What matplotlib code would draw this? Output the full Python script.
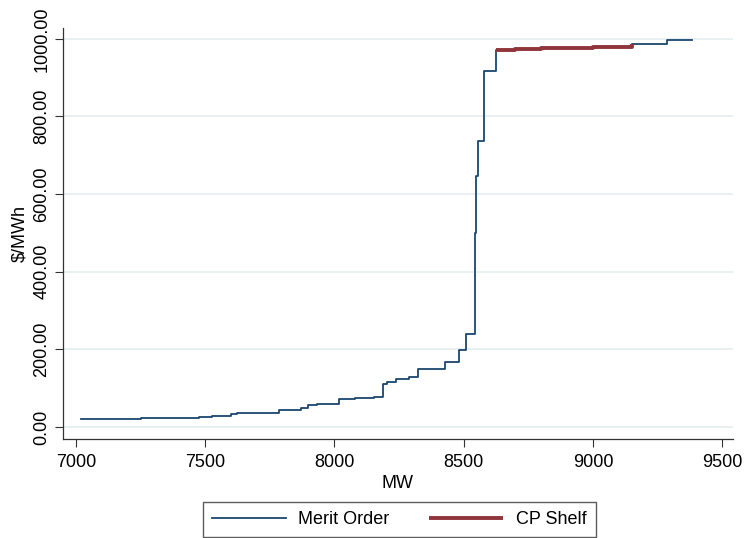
import numpy as np
import matplotlib.pyplot as plt

'''
Data:
'''
# merit order stack: start of each offer block (MW) and its price ($/MWh)
mw = [7019, 7131, 7250, 7383, 7476, 7526, 7600, 7623, 7785, 7870, 7897, 7932,
      8017, 8079, 8153, 8188, 8203, 8238, 8288, 8323, 8427, 8482, 8509,
      8543, 8547, 8555, 8578, 8624, 8700, 8800, 8900, 9000, 9150, 9286, 9382]
price = [20, 21, 22, 23, 25, 28, 33, 37, 44, 50, 56, 59,
         72, 74, 76, 112, 117, 124, 130, 149, 168, 198, 239,
         500, 647, 737, 916, 972, 974, 976, 977, 978, 987, 997, 997]

# CP shelf section of the stack
shelf_start = 8624
shelf_end = 9150

xticks = [7000, 7500, 8000, 8500, 9000, 9500]
yticks = [0, 200, 400, 600, 800, 1000]

plt.rcParams['font.family'] = ['Liberation Sans', 'DejaVu Sans']

'''
Create Graphic:
'''
fig = plt.figure(figsize=(7.53, 5.38), dpi=100)
ax = fig.add_axes([0.0837, 0.184, 0.8897, 0.764])

mw_arr = np.array(mw)
price_arr = np.array(price)
ax.step(mw_arr, price_arr, where='post', color='#1a476f', lw=1.3,
        label='Merit Order', zorder=3)

keep = (mw_arr >= shelf_start) & (mw_arr <= shelf_end)
ax.step(mw_arr[keep], price_arr[keep], where='post', color='#90353b',
        lw=2.8, label='CP Shelf', zorder=4, solid_capstyle='butt')

ax.set_xlim(6950, 9542)
ax.set_ylim(-31, 1028)
ax.set_xticks(xticks)
ax.set_yticks(yticks)
ax.set_yticklabels(['%.2f' % t for t in yticks], rotation=90, va='center')
ax.tick_params(axis='both', labelsize=13, length=6, width=0.8, color='#333333')
ax.tick_params(axis='y', pad=3)
ax.tick_params(axis='x', pad=5)

ax.grid(axis='y', color='#e4edf0', lw=1.2)
ax.set_axisbelow(True)
for side in ['top', 'right']:
    ax.spines[side].set_visible(False)
for side in ['left', 'bottom']:
    ax.spines[side].set_color('#333333')
    ax.spines[side].set_linewidth(0.9)

ax.set_xlabel('MW', fontsize=13, labelpad=3)
ax.set_ylabel('$/MWh', fontsize=13, labelpad=4)

fig.legend(loc='lower center', bbox_to_anchor=(0.53, 0.002), ncol=2,
           fontsize=13, handlelength=4.1, handletextpad=0.7, columnspacing=2.2,
           frameon=True, fancybox=False, edgecolor='#333333', borderpad=0.5,
           borderaxespad=0)

fig.savefig('out.png', dpi=100, facecolor='white')
